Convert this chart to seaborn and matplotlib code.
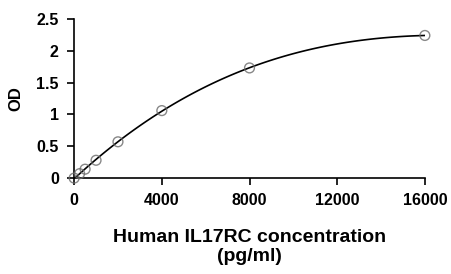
import matplotlib
matplotlib.use("Agg")
import matplotlib.pyplot as plt
import seaborn as sns
import pandas as pd

concentration = [0, 250, 500, 1000, 2000, 4000, 8000, 16000]
od = [0.0, 0.07, 0.14, 0.28, 0.57, 1.06, 1.73, 2.24]
x_ticks = [0, 4000, 8000, 12000, 16000]
y_ticks = [0, 0.5, 1, 1.5, 2, 2.5]
y_tick_labels = ["0", "0.5", "1", "1.5", "2", "2.5"]

sns.set_style("ticks")
plt.rcParams['font.family'] = ['Liberation Sans', 'DejaVu Sans']
plt.rcParams['font.weight'] = 'bold'
plt.rcParams['text.color'] = 'black'
plt.rcParams['axes.labelcolor'] = 'black'

df = pd.DataFrame({"conc": concentration, "od": od})

fig = plt.figure(figsize=(4.52, 2.74), dpi=100)
ax = fig.add_axes([0.164, 0.350, 0.776, 0.581])

sns.regplot(data=df, x="conc", y="od", order=3, ci=None, ax=ax,
            scatter_kws=dict(s=50, facecolors="none", edgecolors="#6a6a6a",
                             linewidths=1.0, clip_on=False, zorder=3),
            line_kws=dict(color="black", lw=1.2), truncate=True)

ax.set_xlim(0, 16000)
ax.set_ylim(0, 2.5)
ax.set_xticks(x_ticks)
ax.set_yticks(y_ticks)
ax.set_yticklabels(y_tick_labels)
sns.despine(ax=ax)
for s in ["left", "bottom"]:
    ax.spines[s].set_linewidth(1.2)
    ax.spines[s].set_color("black")
ax.tick_params(axis="both", direction="out", length=5, width=1.2, labelsize=11.5, colors="black", pad=6)
for lbl in ax.get_xticklabels() + ax.get_yticklabels():
    lbl.set_fontweight("bold")
ax.set_xlabel("Human IL17RC concentration\n(pg/ml)", fontsize=14, fontweight="bold",
              labelpad=15, linespacing=1.15, color="black")
ax.set_ylabel("OD", fontsize=12, fontweight="bold", labelpad=9, color="black")

fig.savefig("out.png", dpi=100)
